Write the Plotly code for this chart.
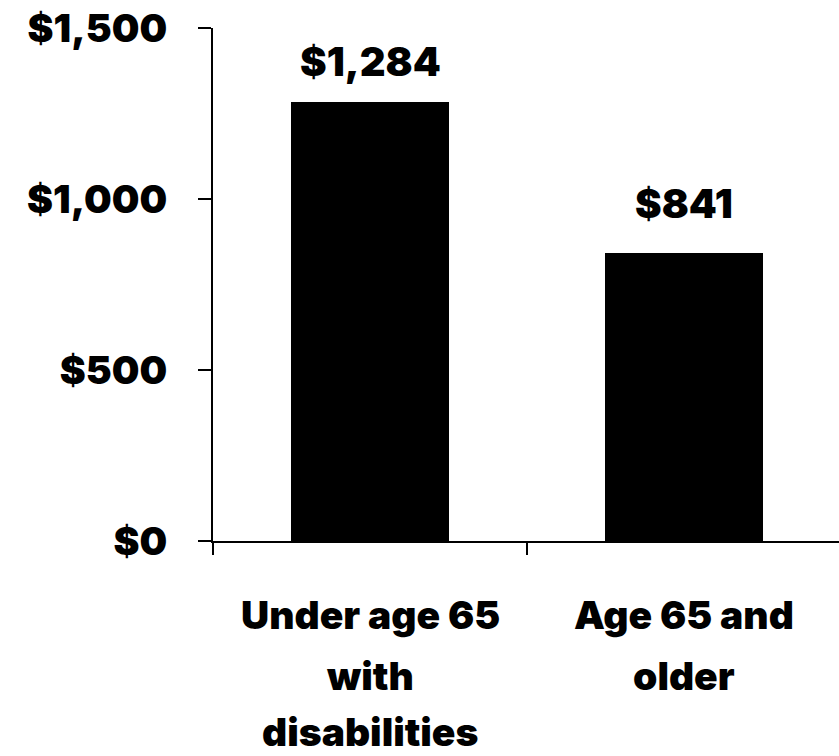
import plotly.graph_objects as go

# Average annual out-of-pocket spending by beneficiary group
categories = ["Under age 65 with disabilities", "Age 65 and older"]
category_lines = [["Under age 65", "with", "disabilities"], ["Age 65 and", "older"]]
spending = [1284, 841]
value_labels = ["$1,284", "$841"]

y_ticks = [0, 500, 1000, 1500]
y_tick_labels = ["$0", "$500", "$1,000", "$1,500"]

FONT = "Inter"
WEIGHT = 900
W, H = 839, 756
M_L, M_R, M_T, M_B = 213, 0, 28, 215
plot_w = W - M_L - M_R
unit_px = 314.0  # pixel width of one category slot


def heavy(size):
    return dict(family=FONT, size=size, color="#000000", weight=WEIGHT)


fig = go.Figure(
    go.Bar(
        x=categories,
        y=spending,
        width=0.506,
        marker=dict(color="#000000", line=dict(width=0)),
        hoverinfo="skip",
    )
)

# value labels above the bars
label_lift = [40, 50]
for cat, val, txt, lift in zip(categories, spending, value_labels, label_lift):
    fig.add_annotation(
        x=cat, y=val, xref="x", yref="y",
        text=txt, showarrow=False,
        yanchor="middle", yshift=lift,
        font=heavy(40),
    )

# multi-line category labels under the axis
line_drop = [73, 134, 190]
for cat, lines in zip(categories, category_lines):
    for i, line in enumerate(lines):
        fig.add_annotation(
            x=cat, y=0, xref="x", yref="paper",
            text=line, showarrow=False,
            yanchor="middle", yshift=-line_drop[i],
            font=heavy(39), borderpad=0,
        )

fig.update_layout(
    width=W, height=H,
    margin=dict(l=M_L, r=M_R, t=M_T, b=M_B, pad=0),
    paper_bgcolor="#ffffff", plot_bgcolor="#ffffff",
    showlegend=False,
    bargap=0,
    font=dict(family=FONT, color="#000000"),
)

fig.update_xaxes(
    type="category",
    range=[-0.5, -0.5 + plot_w / unit_px],
    showgrid=False, zeroline=False,
    showline=True, linecolor="#000000", linewidth=1.5,
    ticks="outside", tickson="boundaries", ticklen=12, tickwidth=1.5, tickcolor="#000000",
    showticklabels=False,
)

fig.update_yaxes(
    range=[0, 1500],
    tickvals=y_ticks, ticktext=y_tick_labels,
    showgrid=False, zeroline=False,
    showline=True, linecolor="#000000", linewidth=2,
    ticks="outside", ticklen=13, tickwidth=2, tickcolor="#000000",
    ticklabelstandoff=23,
    tickfont=heavy(39),
)

fig.write_html("out.html")
